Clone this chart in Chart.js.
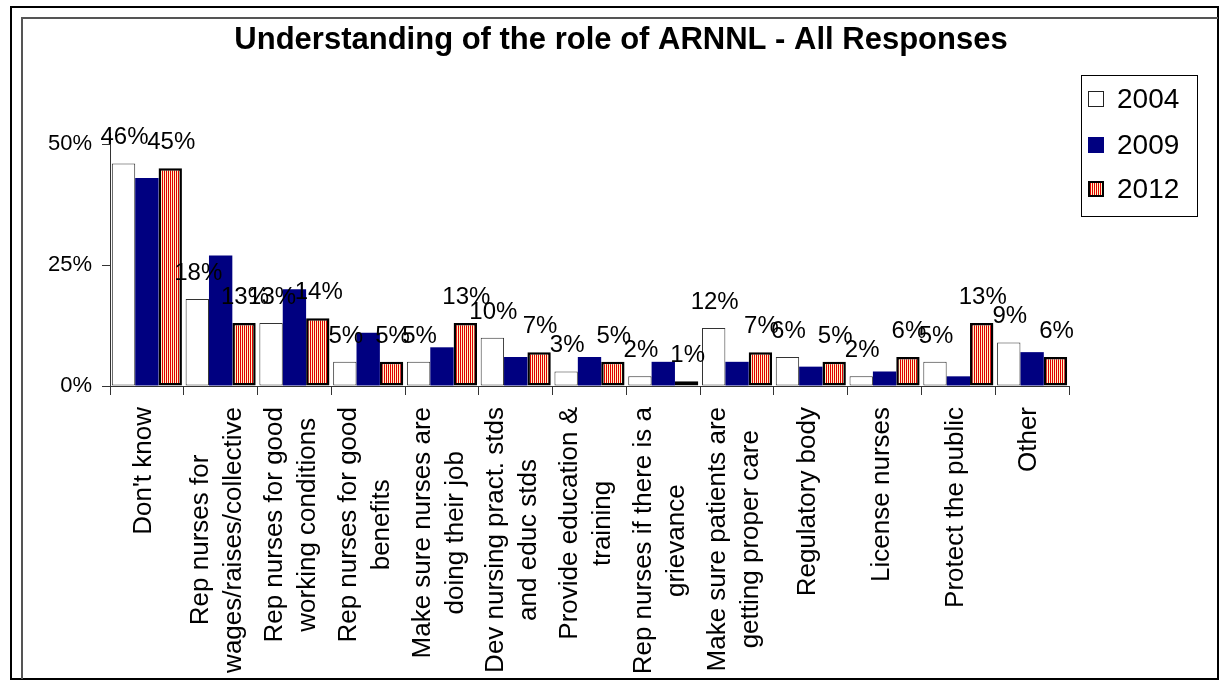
<!DOCTYPE html>
<html>
<head>
<meta charset="utf-8">
<title>Understanding of the role of ARNNL - All Responses</title>
<script src="https://cdn.jsdelivr.net/npm/chart.js@4"></script>
<style>
  body { margin: 0; background: #fff; }
  canvas { display: block; }
</style>
</head>
<body>
<canvas id="arnnlChart" width="1228" height="685"></canvas>
<script>
const categories = [
    ["Don't know"],
    ["Rep nurses for", "wages/raises/collective"],
    ["Rep nurses for good", "working conditions"],
    ["Rep nurses for good", "benefits"],
    ["Make sure nurses are", "doing their job"],
    ["Dev nursing pract. stds", "and educ stds"],
    ["Provide education &", "training"],
    ["Rep nurses if there is a", "grievance"],
    ["Make sure patients are", "getting proper care"],
    ["Regulatory body"],
    ["License nurses"],
    ["Protect the public"],
    ["Other"]
];
const seriesNames = ["2004", "2009", "2012"];
const values2004 = [46, 18, 13, 5, 5, 10, 3, 2, 12, 6, 2, 5, 9];
const values2009 = [43, 27, 20, 11, 8, 6, 6, 5, 5, 4, 3, 2, 7];
const values2012 = [45, 13, 14, 5, 13, 7, 5, 1, 7, 5, 6, 13, 6];
const yTicks = [0, 25, 50];
const titleText = "Understanding of the role of ARNNL - All Responses";

const FONT = '"Liberation Sans", Arial, sans-serif';

document.addEventListener("DOMContentLoaded", function () {
    const canvas = document.getElementById("arnnlChart");
    const ctx = canvas.getContext("2d");

    // red / cream vertical stripes for the 2012 bars
    const tile = document.createElement("canvas");
    tile.width = 2;
    tile.height = 2;
    const t = tile.getContext("2d");
    t.fillStyle = "#fff4c4";
    t.fillRect(0, 0, 2, 2);
    t.fillStyle = "#e00000";
    t.fillRect(0, 0, 1, 2);
    const stripes = ctx.createPattern(tile, "repeat");

    const framePlugin = {
        id: "frame",
        beforeDraw(chart) {
            const c = chart.ctx;
            c.save();
            c.fillStyle = "#fff";
            c.fillRect(0, 0, chart.width, chart.height);
            c.strokeStyle = "#000";
            c.lineWidth = 2;
            c.strokeRect(11, 7, 1207, 672);
            c.strokeStyle = "#555";
            c.beginPath();
            c.moveTo(22, 679);
            c.lineTo(22, 18);
            c.lineTo(1218, 18);
            c.stroke();
            c.restore();
        }
    };

    const labelPlugin = {
        id: "valueLabels",
        afterDatasetsDraw(chart) {
            const c = chart.ctx;
            c.save();
            c.font = "24px " + FONT;
            c.fillStyle = "#000";
            c.textAlign = "center";
            c.textBaseline = "alphabetic";
            [0, 2].forEach(i => {
                const values = chart.data.datasets[i].data;
                chart.getDatasetMeta(i).data.forEach((bar, j) => {
                    c.fillText(values[j] + "%", bar.x + 1, bar.y - 19);
                });
            });
            c.restore();
        }
    };

    const textPlugin = {
        id: "texts",
        afterDraw(chart) {
            const c = chart.ctx;
            const xScale = chart.scales.x;
            c.save();

            // title
            c.font = "bold 31px " + FONT;
            c.fillStyle = "#000";
            c.textAlign = "center";
            c.textBaseline = "alphabetic";
            c.fillText(titleText, 621, 49);

            // rotated category labels, lines centred inside their block
            c.font = "26px " + FONT;
            c.textBaseline = "middle";
            categories.forEach((lines, j) => {
                const cx = xScale.getPixelForValue(j) - 3;
                const widest = Math.max(...lines.map(l => c.measureText(l).width));
                const cy = chart.chartArea.bottom + 21 + widest / 2;
                lines.forEach((line, k) => {
                    c.save();
                    c.translate(cx + (k - (lines.length - 1) / 2) * 33, cy);
                    c.rotate(-Math.PI / 2);
                    c.fillText(line, 0, 0);
                    c.restore();
                });
            });

            // legend box
            c.strokeStyle = "#000";
            c.lineWidth = 1;
            c.strokeRect(1081.5, 75.5, 116, 141);
            const rows = [99, 145, 189];
            const swatches = [
                { fill: "#fff", stroke: "#222", w: 1 },
                { fill: "#000080", stroke: null, w: 0 },
                { fill: stripes, stroke: "#000", w: 2 }
            ];
            c.font = "28px " + FONT;
            c.textAlign = "left";
            seriesNames.forEach((name, i) => {
                const s = swatches[i];
                const y = rows[i] - 8;
                c.fillStyle = s.fill;
                c.fillRect(1088, y, 16, 16);
                if (s.stroke) {
                    c.strokeStyle = s.stroke;
                    c.lineWidth = s.w;
                    c.strokeRect(1088 + s.w / 2, y + s.w / 2, 16 - s.w, 16 - s.w);
                }
                c.fillStyle = "#000";
                c.fillText(name, 1117, rows[i] + 1);
            });
            c.restore();
        }
    };

    new Chart(ctx, {
        type: "bar",
        data: {
            labels: categories,
            datasets: [
                {
                    label: seriesNames[0],
                    data: values2004,
                    backgroundColor: "#ffffff",
                    borderColor: "#333",
                    borderWidth: 1,
                    borderSkipped: false
                },
                {
                    label: seriesNames[1],
                    data: values2009,
                    backgroundColor: "#000080",
                    borderWidth: 0
                },
                {
                    label: seriesNames[2],
                    data: values2012,
                    backgroundColor: stripes,
                    borderColor: "#000",
                    borderWidth: 2.5,
                    borderSkipped: false
                }
            ]
        },
        options: {
            responsive: false,
            animation: false,
            layout: { padding: { top: 133, right: 159, bottom: 0, left: 0 } },
            datasets: { bar: { categoryPercentage: 0.95, barPercentage: 1 } },
            plugins: {
                legend: { display: false },
                title: { display: false },
                tooltip: { enabled: false }
            },
            scales: {
                x: {
                    grid: { drawOnChartArea: false, offset: true, tickLength: 9, color: "#333" },
                    border: { color: "#333" },
                    ticks: { display: false },
                    afterFit: s => { s.height = 299; }
                },
                y: {
                    min: 0,
                    max: 52.3,
                    afterBuildTicks: s => { s.ticks = yTicks.map(v => ({ value: v })); },
                    grid: { drawOnChartArea: false, tickLength: 8, color: "#333" },
                    border: { color: "#333" },
                    ticks: {
                        font: { family: FONT, size: 22 },
                        color: "#000",
                        padding: 10,
                        callback: v => v + "%"
                    },
                    afterFit: s => { s.width = 110; }
                }
            }
        },
        plugins: [framePlugin, labelPlugin, textPlugin]
    });
});
</script>
</body>
</html>
